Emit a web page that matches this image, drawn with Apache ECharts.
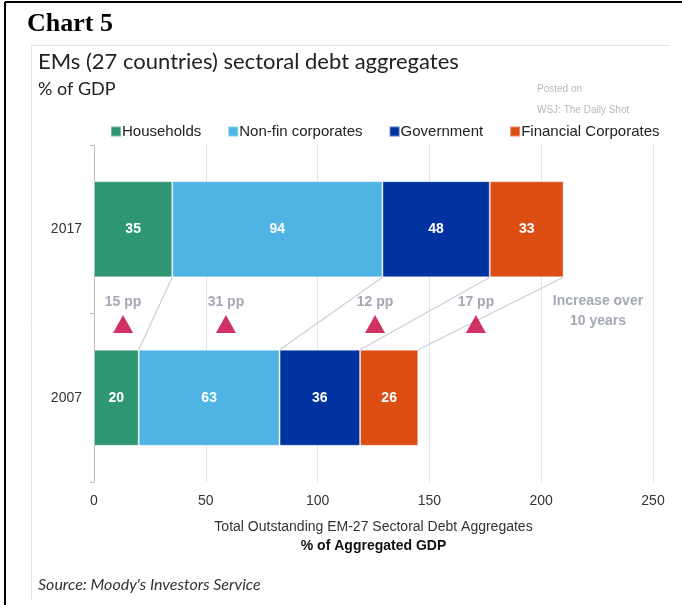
<!DOCTYPE html>
<html>
<head>
<meta charset="utf-8">
<script src="https://cdn.jsdelivr.net/npm/echarts@6/dist/echarts.min.js"></script>
<style>
  html, body { margin: 0; padding: 0; background: #fff; }
  #chart { width: 682px; height: 605px; }
</style>
</head>
<body>
<div id="chart"></div>
<script>
// Sector debt as % of aggregated GDP, EM-27
var years = ['2007', '2017'];
var sectors = ['Households', 'Non-fin corporates', 'Government', 'Financial Corporates'];
var households = [20, 35];
var nonFinCorporates = [63, 94];
var government = [36, 48];
var financialCorporates = [26, 33];
var sectorColors = ['#2e9672', '#4fb4e4', '#0033a0', '#dd4e14'];

// Ten-year increase call-outs
var increaseLabels = ['15 pp', '31 pp', '12 pp', '17 pp'];
var increaseMarkerX = [13, 59, 125.7, 170.8];

var xTicks = [0, 50, 100, 150, 200, 250];

var seriesValues = [households, nonFinCorporates, government, financialCorporates];
var barFrac = 0.57;
var half = barFrac / 2;

// cumulative segment edges per year
function edges(yearIdx) {
  var out = [], s = 0;
  seriesValues.forEach(function (v) { s += v[yearIdx]; out.push(s); });
  return out;
}
var edges2007 = edges(0);
var edges2017 = edges(1);

var chart = echarts.init(document.getElementById('chart'), null, { renderer: 'canvas' });

var series = [];
sectors.forEach(function (name, i) {
  series.push({
    name: name,
    type: 'bar',
    stack: 'debt',
    barWidth: (barFrac * 100) + '%',
    yAxisIndex: 0,
    itemStyle: { color: sectorColors[i], borderColor: 'rgba(255,255,255,0.35)', borderWidth: 1 },
    label: {
      show: true,
      position: 'inside',
      color: '#fff',
      fontFamily: 'Liberation Sans',
      fontWeight: 'bold',
      fontSize: 14
    },
    z: 3,
    data: seriesValues[i]
  });
});

// connector lines from 2017 segment edges down to the 2007 segment edges
edges2017.forEach(function (e, i) {
  series.push({
    type: 'line',
    xAxisIndex: 0,
    yAxisIndex: 1,
    symbol: 'none',
    silent: true,
    lineStyle: { color: '#c9ced9', width: 1.2 },
    z: 1,
    data: [[e, 1.5 - half], [edges2007[i], 0.5 + half]]
  });
});

// increase markers
series.push({
  type: 'scatter',
  xAxisIndex: 0,
  yAxisIndex: 1,
  symbol: 'triangle',
  symbolSize: [20, 18],
  itemStyle: { color: '#c4003c' },
  label: {
    show: true,
    position: 'top',
    distance: 6,
    formatter: function (p) { return increaseLabels[p.dataIndex]; },
    color: '#8d92a3',
    fontFamily: 'Liberation Sans',
    fontWeight: 'bold',
    fontSize: 14
  },
  z: 4,
  data: increaseMarkerX.map(function (x) { return [x, 0.938]; })
});

// side note
series.push({
  type: 'scatter',
  xAxisIndex: 0,
  yAxisIndex: 1,
  symbolSize: 0,
  silent: true,
  label: {
    show: true,
    position: 'inside',
    formatter: 'Increase over\n10 years',
    color: '#8d92a3',
    fontFamily: 'Liberation Sans',
    fontWeight: 'bold',
    fontSize: 14,
    lineHeight: 20,
    align: 'center'
  },
  data: [[225.4, 1.015]]
});

chart.setOption({
  animation: false,
  backgroundColor: '#fff',
  grid: { left: 94, right: 29, top: 145, bottom: 123, containLabel: false },
  legend: {
    data: sectors,
    left: 110,
    top: 124,
    padding: 0,
    icon: 'rect',
    itemWidth: 10,
    itemHeight: 10,
    itemGap: 26,
    textStyle: { fontFamily: 'Liberation Sans', fontSize: 15, color: '#222', padding: [0, 0, 0, -4] }
  },
  xAxis: {
    type: 'value',
    min: 0,
    max: 250,
    interval: 50,
    axisLine: { show: false },
    axisTick: { show: false },
    splitLine: { lineStyle: { color: '#e4e4e6', width: 1 } },
    axisLabel: {
      margin: 12,
      fontFamily: 'Liberation Sans',
      fontSize: 14,
      color: '#333',
      formatter: function (v) { return xTicks.indexOf(v) >= 0 ? String(v) : ''; }
    },
    name: '{a|Total Outstanding EM-27 Sectoral Debt Aggregates}\n{b|% of Aggregated GDP}',
    nameLocation: 'middle',
    nameGap: 36,
    nameTextStyle: {
      rich: {
        a: { fontFamily: 'Liberation Sans', fontSize: 14, color: '#333', lineHeight: 19 },
        b: { fontFamily: 'Liberation Sans', fontSize: 14, fontWeight: 'bold', color: '#111', lineHeight: 19 }
      }
    }
  },
  yAxis: [
    {
      type: 'category',
      data: years,
      axisLine: { show: true, lineStyle: { color: '#bdbdc2', width: 1 } },
      axisTick: { show: true, length: 4, lineStyle: { color: '#bdbdc2' } },
      splitLine: { show: false },
      axisLabel: { margin: 12, fontFamily: 'Liberation Sans', fontSize: 14, color: '#333' }
    },
    {
      type: 'value',
      min: 0,
      max: 2,
      show: false
    }
  ],
  title: [
    {
      text: 'Chart 5',
      left: 27, top: 11, padding: 0,
      textStyle: { fontFamily: 'Liberation Serif', fontWeight: 'bold', fontSize: 26, color: '#000' }
    },
    {
      text: 'EMs (27 countries) sectoral debt aggregates',
      left: 38, top: 51, padding: 0,
      textStyle: { fontFamily: 'Lato', fontWeight: 'normal', fontSize: 22, color: '#222' }
    },
    {
      text: '% of GDP',
      left: 38, top: 80, padding: 0,
      textStyle: { fontFamily: 'Lato', fontWeight: 'normal', fontSize: 18, color: '#222' }
    },
    {
      text: 'Posted on',
      left: 537, top: 84, padding: 0,
      textStyle: { fontFamily: 'Liberation Sans', fontWeight: 'normal', fontSize: 10, color: '#b8b8b8' }
    },
    {
      text: 'WSJ: The Daily Shot',
      left: 537, top: 105, padding: 0,
      textStyle: { fontFamily: 'Liberation Sans', fontWeight: 'normal', fontSize: 10, color: '#b8b8b8' }
    },
    {
      text: "Source: Moody's Investors Service",
      left: 38, top: 577, padding: 0,
      textStyle: { fontFamily: 'Lato', fontStyle: 'italic', fontWeight: 'normal', fontSize: 16, color: '#333' }
    }
  ],
  graphic: [
    { type: 'line', shape: { x1: 5, y1: 2, x2: 682, y2: 2 }, style: { stroke: '#000', lineWidth: 2 } },
    { type: 'line', shape: { x1: 5, y1: 2, x2: 5, y2: 605 }, style: { stroke: '#000', lineWidth: 2 } },
    { type: 'line', shape: { x1: 31, y1: 45.5, x2: 670, y2: 45.5 }, style: { stroke: '#e3e3e3', lineWidth: 1 } },
    { type: 'line', shape: { x1: 31.5, y1: 45, x2: 31.5, y2: 600 }, style: { stroke: '#e3e3e3', lineWidth: 1 } }
  ],
  series: series
});
</script>
</body>
</html>
